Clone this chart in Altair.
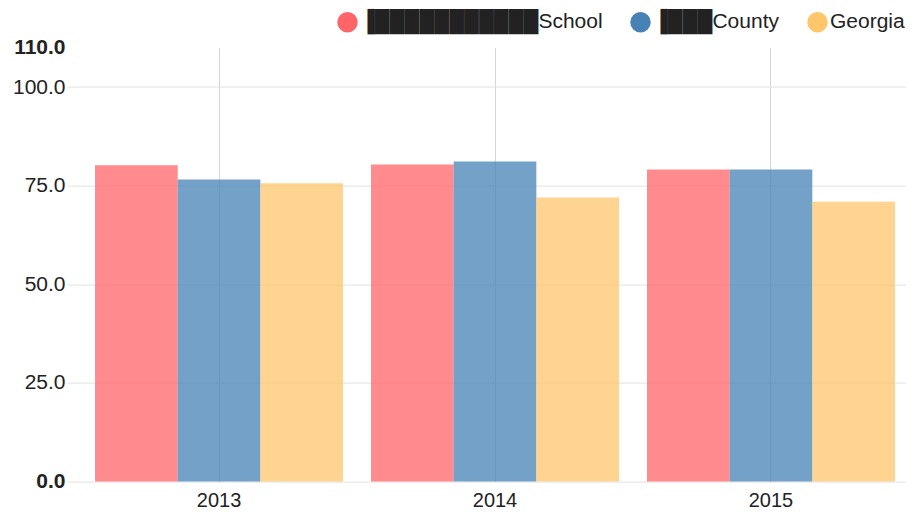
import altair as alt
import pandas as pd

years = ["2013", "2014", "2015"]
series = ["School", "County", "Georgia"]
school = [80.2, 80.4, 79.1]
county = [76.6, 81.1, 79.1]
georgia = [75.6, 72.0, 70.9]
colors = ["#FF6468", "#4682B4", "#FFC56B"]
y_ticks = [0, 25, 50, 75, 100, 110]

rows = []
for i, yr in enumerate(years):
    for s, vals in zip(series, [school, county, georgia]):
        rows.append({"year": yr, "series": s, "value": vals[i]})
df = pd.DataFrame(rows)

B = "\u2588"
H = "\u2590"
label_expr = ("datum.label == 'School' ? '" + H + B * 11 + "School' : "
              "datum.label == 'County' ? '" + H + B * 3 + "County' : datum.label")

chart = alt.Chart(df).mark_bar(opacity=0.75).encode(
    x=alt.X("year:N", title=None, sort=years,
            scale=alt.Scale(paddingInner=0.1014, paddingOuter=0.0707, align=0.718),
            axis=alt.Axis(labelAngle=0, labelFontSize=20, labelFont="Liberation Sans",
                          labelColor="#222", ticks=False, domain=False, labelPadding=9,
                          grid=True, gridColor="#d6d6d6", gridWidth=1)),
    xOffset=alt.XOffset("series:N", sort=series, scale=alt.Scale(paddingInner=0, paddingOuter=0)),
    y=alt.Y("value:Q", title=None, scale=alt.Scale(domain=[0, 110], nice=False),
            axis=alt.Axis(values=y_ticks, format=".1f", labelFontSize=21,
                          labelFont="Liberation Sans", labelColor="#222",
                          labelFontWeight={"condition": {"test": "datum.value == 0 || datum.value == 110", "value": "bold"}, "value": "normal"},
                          ticks=False, domain=False, labelPadding=2,
                          gridColor="#e2e2e2", gridWidth=1,
                          gridOpacity={"condition": {"test": "datum.value > 100", "value": 0}, "value": 1})),
    color=alt.Color("series:N", sort=series,
                    scale=alt.Scale(domain=series, range=colors),
                    legend=alt.Legend(title=None, orient="none", direction="horizontal",
                                      legendX=270, legendY=-36, padding=0,
                                      symbolType="circle", symbolSize=420, symbolOpacity=1,
                                      symbolStrokeWidth=0, labelFontSize=21,
                                      labelFont="Liberation Sans", labelColor="#222",
                                      labelOffset=2, columnPadding=27,
                                      labelExpr=label_expr, labelLimit=400)),
).properties(
    width=839, height=434,
    autosize=alt.AutoSizeParams(type="none"),
    padding={"left": 59, "top": 39.6, "right": 0, "bottom": 30},
).configure_view(stroke=None)

chart.save("out.html", embed_options={"renderer": "svg", "actions": False})
